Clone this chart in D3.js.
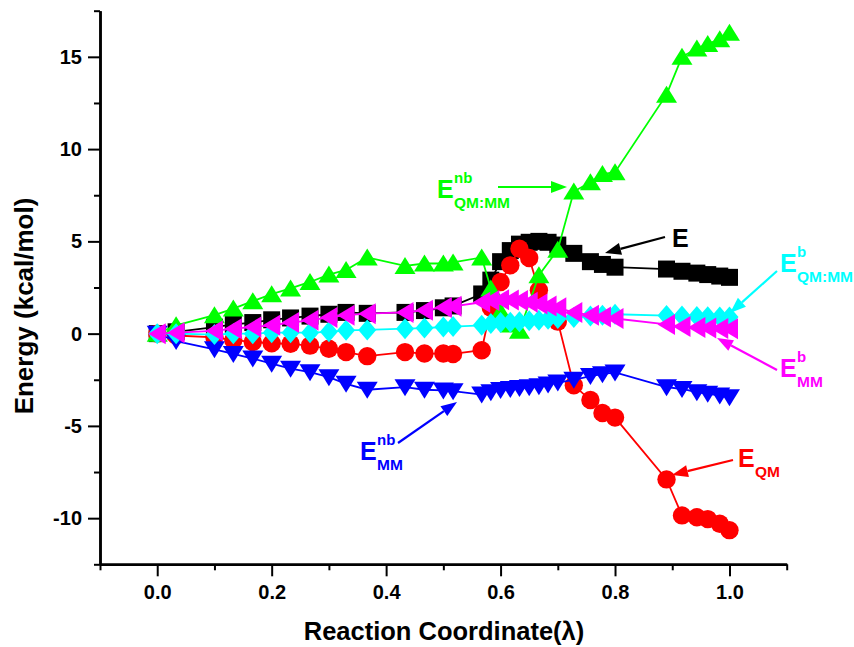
<!DOCTYPE html>
<html><head><meta charset="utf-8">
<script src="https://cdn.jsdelivr.net/npm/d3@7"></script>
<style>
body{margin:0;background:#fff}
text{font-family:"Liberation Sans",Arial,sans-serif;font-weight:bold}
</style>
</head><body>
<svg id="c" width="854" height="647"></svg>
<script>
// Reaction coordinate values (lambda)
const lambda = [0, 0.033, 0.1, 0.133, 0.167, 0.2, 0.233, 0.267, 0.3, 0.33, 0.367, 0.433, 0.467, 0.5, 0.517,
  0.567, 0.583, 0.6, 0.617, 0.633, 0.65, 0.667, 0.683, 0.7, 0.728, 0.757, 0.778, 0.8,
  0.89, 0.917, 0.943, 0.962, 0.983, 1.0];
// E (total)
const E_total = [0, 0.1, 0.35, 0.5, 0.6, 0.75, 0.85, 0.95, 1.05, 1.15, 1.1, 1.15, 1.25, 1.4, 1.5,
  2.15, 2.9, 3.9, 4.5, 4.85, 4.95, 5.0, 4.95, 4.8, 4.35, 3.9, 3.75, 3.6,
  3.5, 3.38, 3.28, 3.2, 3.12, 3.05];
// E_QM
const E_QM = [0, -0.1, -0.2, -0.35, -0.45, -0.52, -0.55, -0.65, -0.82, -1.0, -1.22, -1.0, -1.08, -1.08, -1.1,
  -0.9, 1.4, 2.8, 3.7, 4.6, 4.1, 2.35, null, 0.65, -2.8, -3.6, -4.3, -4.55,
  -7.9, -9.85, -9.95, -10.05, -10.3, -10.65];
// E^nb_QM:MM
const E_nb_QMMM = [0, 0.45, 1.0, 1.36, 1.76, 2.14, 2.45, 2.8, 3.2, 3.45, 4.13, 3.67, 3.8, 3.8, 3.86,
  4.13, 2.45, 1.2, 0.5, 0.15, null, 3.17, null, 4.55, 7.7, 8.2, 8.65, 8.75,
  12.95, 15.0, 15.45, 15.7, 15.95, 16.3];
// E^nb_MM
const E_nb_MM = [0, -0.4, -0.85, -1.1, -1.35, -1.63, -1.9, -2.09, -2.36, -2.72, -3.04, -2.9, -3.04, -3.08, -3.12,
  -3.3, -3.17, -3.05, -3.0, -2.95, -2.9, -2.85, -2.75, -2.65, -2.5, -2.3, -2.2, -2.1,
  -2.9, -3.0, -3.17, -3.26, -3.35, -3.45];
// E^b_QM:MM
const E_b_QMMM = [0, 0, -0.05, 0, 0, 0.05, 0.05, 0.05, 0.1, 0.18, 0.2, 0.27, 0.3, 0.36, 0.38,
  0.45, 0.55, 0.6, 0.62, 0.65, 0.7, 0.72, 0.78, 0.82, 0.88, 0.95, 1.0, 1.05,
  0.98, 0.95, 0.93, 0.92, 0.9, 0.9];
// E^b_MM
const E_b_MM = [0, 0.05, 0.15, 0.27, 0.36, 0.45, 0.6, 0.72, 0.88, 1.0, 1.08, 1.15, 1.27, 1.42, 1.48,
  1.7, 1.8, 1.83, 1.82, 1.8, 1.7, 1.6, 1.5, 1.4, 1.15, 1.0, 0.9, 0.82,
  0.5, 0.38, 0.33, 0.3, 0.28, 0.27];

const xMajor = [0, 0.2, 0.4, 0.6, 0.8, 1.0];
const xMinor = [-0.1, 0.1, 0.3, 0.5, 0.7, 0.9, 1.1];
const yMajor = [-10, -5, 0, 5, 10, 15];
const yMinor = [-12.5, -7.5, -2.5, 2.5, 7.5, 12.5, 17.5];

const series = [
  {values: E_total, color: '#000000', shape: 'square'},
  {values: E_QM, color: '#ff0000', shape: 'circle'},
  {values: E_nb_QMMM, color: '#00ff00', shape: 'up'},
  {values: E_nb_MM, color: '#0000ff', shape: 'down'},
  {values: E_b_QMMM, color: '#00ffff', shape: 'diamond'},
  {values: E_b_MM, color: '#ff00ff', shape: 'left'}
];

const shapes = {
  square: 'M-8.5,-8.5h17v17h-17Z',
  circle: 'M9.2,0A9.2,9.2 0 1,1 -9.2,0A9.2,9.2 0 1,1 9.2,0Z',
  up: 'M0,-9L10.5,8L-10.5,8Z',
  down: 'M0,9L10.5,-8L-10.5,-8Z',
  diamond: 'M0,-10.5L9,0L0,10.5L-9,0Z',
  left: 'M-9,0L8.5,-10.5L8.5,10.5Z'
};

const svg = d3.select('#c');
const x = d3.scaleLinear().domain([-0.1, 1.1]).range([100, 786.7]);
const y = d3.scaleLinear().domain([-12.5, 17.5]).range([564.3, 10.7]);

// series
series.forEach(s => {
  const pts = lambda.map((l, i) => ({l, v: s.values[i]})).filter(d => d.v !== null);
  const g = svg.append('g');
  g.append('path').datum(pts)
    .attr('fill', 'none').attr('stroke', s.color).attr('stroke-width', 1.8)
    .attr('d', d3.line().x(d => x(d.l)).y(d => y(d.v)));
  g.selectAll('path.m').data(pts).enter().append('path').attr('class', 'm')
    .attr('d', shapes[s.shape]).attr('fill', s.color)
    .attr('transform', d => `translate(${x(d.l)},${y(d.v)})`);
});

// axes
function styleAxis(g) {
  g.selectAll('path.domain').attr('stroke', '#000').attr('stroke-width', 2.5);
  g.selectAll('line').attr('stroke', '#000').attr('stroke-width', 2);
  g.selectAll('text').attr('font-size', 20).attr('font-weight', 'bold').attr('fill', '#000')
    .attr('font-family', '"Liberation Sans",Arial,sans-serif');
}
const yAxisMinor = svg.append('g').attr('transform', 'translate(100,0)')
  .call(d3.axisLeft(y).tickValues(yMinor).tickSize(6).tickSizeOuter(0).tickFormat(''));
styleAxis(yAxisMinor);
const yAxis = svg.append('g').attr('transform', 'translate(100,0)')
  .call(d3.axisLeft(y).tickValues(yMajor).tickSize(12).tickSizeOuter(0).tickPadding(6).tickFormat(d => String(d)));
styleAxis(yAxis);
const xAxisMinor = svg.append('g').attr('transform', 'translate(0,564.3)')
  .call(d3.axisBottom(x).tickValues(xMinor).tickSize(6).tickSizeOuter(0).tickFormat(''));
styleAxis(xAxisMinor);
const xAxis = svg.append('g').attr('transform', 'translate(0,564.3)')
  .call(d3.axisBottom(x).tickValues(xMajor).tickSize(12).tickSizeOuter(0).tickPadding(9).tickFormat(d3.format('.1f')));
styleAxis(xAxis);

// axis titles
svg.append('text').attr('x', 444).attr('y', 640).attr('text-anchor', 'middle')
  .attr('font-size', 25.5).text('Reaction Coordinate(λ)');
svg.append('text').attr('transform', 'translate(33,306) rotate(-90)').attr('text-anchor', 'middle')
  .attr('font-size', 26).text('Energy (kcal/mol)');

// annotations (label position, superscript, subscript, arrow)
const annotations = [
  {color: '#00ff00', tx: 437, ty: 198, sup: 'nb', sub: 'QM:MM', a: [498, 187, 567, 187]},
  {color: '#000000', tx: 672, ty: 247, sup: '', sub: '', a: [665, 237, 605, 253]},
  {color: '#00ffff', tx: 780, ty: 272, sup: 'b', sub: 'QM:MM', a: [777, 271, 730, 313]},
  {color: '#ff00ff', tx: 780, ty: 377, sup: 'b', sub: 'MM', a: [777, 370, 717, 338]},
  {color: '#ff0000', tx: 738, ty: 467, sup: '', sub: 'QM', a: [733, 460, 672, 475]},
  {color: '#0000ff', tx: 360, ty: 460, sup: 'nb', sub: 'MM', a: [398, 443, 457, 402]}
];
annotations.forEach(an => {
  const g = svg.append('g');
  g.append('text').attr('x', an.tx).attr('y', an.ty).attr('font-size', 25).attr('fill', an.color).text('E');
  if (an.sup) g.append('text').attr('x', an.tx + 17).attr('y', an.ty - 15).attr('font-size', 15).attr('fill', an.color).text(an.sup);
  if (an.sub) g.append('text').attr('x', an.tx + 17).attr('y', an.ty + 10).attr('font-size', 15.5).attr('fill', an.color).text(an.sub);
  const [x1, y1, x2, y2] = an.a;
  const ang = Math.atan2(y2 - y1, x2 - x1);
  const L = 16, W = 6;
  const bx = x2 - L * Math.cos(ang), by = y2 - L * Math.sin(ang);
  g.append('line').attr('x1', x1).attr('y1', y1).attr('x2', bx).attr('y2', by)
    .attr('stroke', an.color).attr('stroke-width', 2.2);
  g.append('path').attr('fill', an.color).attr('d',
    `M${x2},${y2}L${bx - W * Math.sin(ang)},${by + W * Math.cos(ang)}L${bx + W * Math.sin(ang)},${by - W * Math.cos(ang)}Z`);
});
</script>
</body></html>
